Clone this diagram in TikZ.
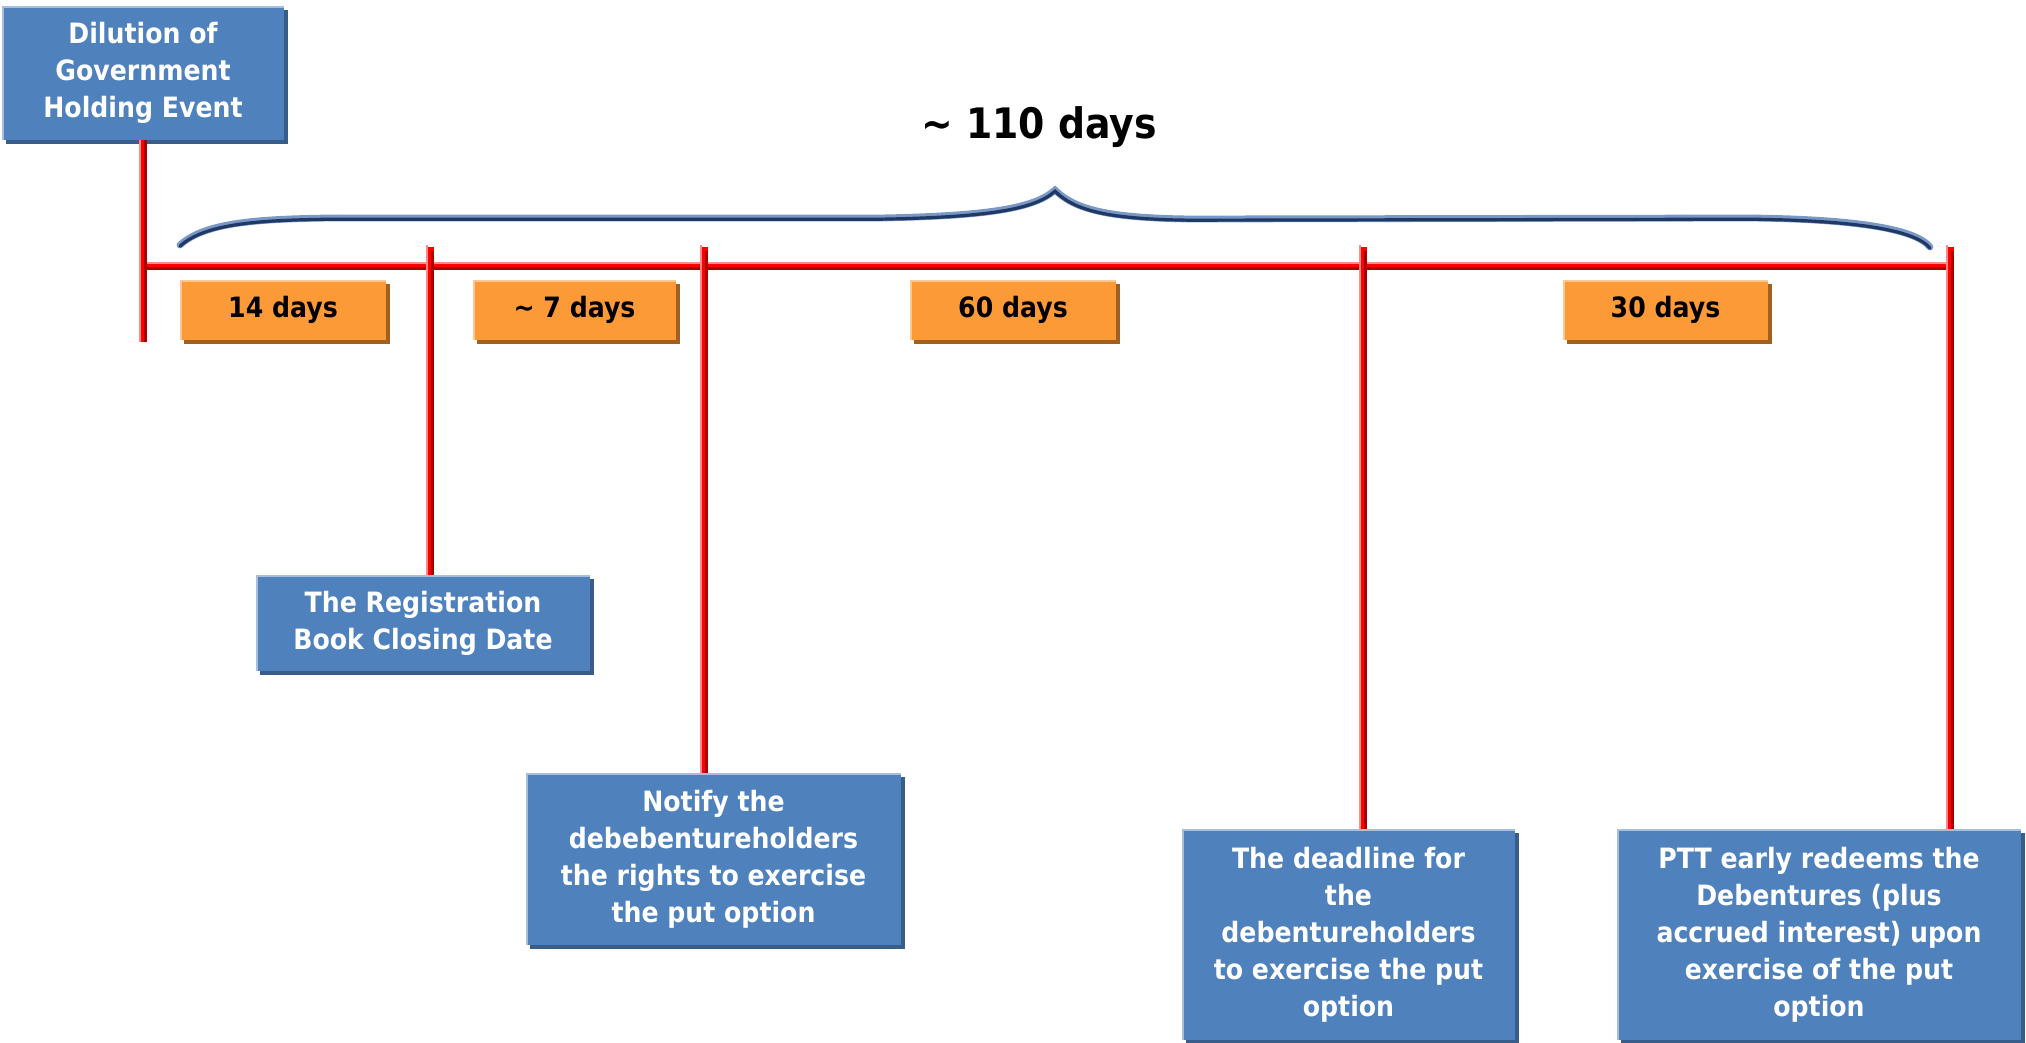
\documentclass[tikz,border=0pt]{standalone}
\usepackage{fontspec}
\setmainfont{DejaVu Sans}[FakeStretch=0.9]
\usetikzlibrary{shadows}
\definecolor{bfill}{HTML}{4F81BD}
\definecolor{blight}{HTML}{A7BEDC}
\definecolor{bshadow}{HTML}{385D8A}
\definecolor{ofill}{HTML}{FD9A38}
\definecolor{olight}{HTML}{FFC891}
\definecolor{oshadow}{HTML}{A0601F}
\definecolor{rmain}{HTML}{FF0000}
\definecolor{rdark}{HTML}{A80000}
\definecolor{rlight}{HTML}{FF8A8A}
\definecolor{navy}{HTML}{1F3864}
\definecolor{navylight}{HTML}{7A98C6}
\begin{document}
\begin{tikzpicture}[x=0.5pt,y=-0.5pt,
  bluebox/.style={fill=bfill, text=white, font=\bfseries\fontsize{14pt}{18.5pt}\selectfont,
    align=center, inner sep=0pt,
    drop shadow={shadow xshift=2pt,shadow yshift=-2pt,opacity=1,fill=bshadow}},
  orangebox/.style={fill=ofill, text=black, font=\bfseries\fontsize{14pt}{17pt}\selectfont,
    minimum height=30pt, inner sep=0pt,
    drop shadow={shadow xshift=2pt,shadow yshift=-2pt,opacity=1,fill=oshadow}},
  bedge/.style={draw=blight, line width=1.3pt},
  oedge/.style={draw=olight, line width=1.3pt},
  redmain/.style={draw=rmain, line width=3.8pt},
  reddark/.style={draw=rdark, line width=1.2pt},
  redlight/.style={draw=rlight, line width=0.8pt},
  bracelight/.style={draw=navylight, line width=3.4pt, line cap=round},
  bracedark/.style={draw=navy, line width=1.6pt, line cap=round}
]
\useasboundingbox (0,0) rectangle (2026,1043);

% blue boxes
\node[bluebox, minimum width=141pt, minimum height=67pt] (b1) at (143,73) {Dilution of\\Government\\Holding Event};
\node[bluebox, minimum width=167pt, minimum height=48pt] (reg) at (423,623) {The Registration\\Book Closing Date};
\node[bluebox, minimum width=187.5pt, minimum height=86pt] (notify) at (713.5,859) {Notify the\\debebentureholders\\the rights to exercise\\the put option};
\node[bluebox, minimum width=166.5pt, minimum height=105.5pt] (dead) at (1348.5,934.5) {The deadline for\\the\\debentureholders\\to exercise the put\\option};
\node[bluebox, minimum width=202pt, minimum height=105.5pt] (ptt) at (1819,934.5) {PTT early redeems the\\Debentures (plus\\accrued interest) upon\\exercise of the put\\option};
\foreach \n in {b1,reg,notify,dead,ptt}
  \draw[bedge] ([xshift=0.65pt]\n.south west) |- ([yshift=-0.65pt]\n.north east);

% orange boxes
\node[orangebox, minimum width=103pt] (o14) at (283,310) {14 days};
\node[orangebox, minimum width=101.5pt] (o7) at (574.5,310) {\textasciitilde\ 7 days};
\node[orangebox, minimum width=103pt] (o60) at (1013,310) {60 days};
\node[orangebox, minimum width=102.5pt] (o30) at (1665.5,310) {30 days};
\foreach \n in {o14,o7,o60,o30}
  \draw[oedge] ([xshift=0.65pt]\n.south west) |- ([yshift=-0.65pt]\n.north east);

% timeline coordinates
\coordinate (lv) at (143,342);
\coordinate (m0) at (143,266);
\coordinate (m1) at (1950,266);
\coordinate (k1) at (430,247);
\coordinate (k2) at (704,247);
\coordinate (k3) at (1363,247);
\coordinate (k4) at (1950,247);

% main horizontal line
\draw[redmain] (m0) -- (m1);
\draw[reddark] ([yshift=-1.35pt]m0) -- ([yshift=-1.35pt]m1);
\draw[redlight] ([yshift=1.5pt]m0) -- ([yshift=1.5pt]m1);

% left vertical line
\draw[redmain] (b1.south) -- (lv);
\draw[reddark] ([xshift=1.3pt]b1.south) -- ([xshift=1.3pt]lv);
\draw[redlight] ([xshift=-1.5pt]b1.south) -- ([xshift=-1.5pt]lv);

% ticks
\foreach \k/\b in {k1/reg,k2/notify,k3/dead,k4/ptt}{
  \draw[redmain] (\k) -- (\k |- \b.north);
  \draw[reddark] ([xshift=1.3pt,yshift=-2pt]\k) -- ([xshift=1.3pt]\k |- \b.north);
  \draw[redlight] ([xshift=-1.5pt,yshift=1pt]\k) -- ([xshift=-1.5pt]\k |- \b.north);
}

% brace
\draw[bracelight] (180,245) .. controls (205,222) and (260,219) .. (330,218) -- (880,218)
  .. controls (990,216) and (1035,208) .. (1055,190)
  .. controls (1075,210) and (1110,218) .. (1190,219) -- (1750,218)
  .. controls (1850,219) and (1915,228) .. (1930,247);
\begin{scope}[yshift=-0.6pt]
\draw[bracedark] (180,245) .. controls (205,222) and (260,219) .. (330,218) -- (880,218)
  .. controls (990,216) and (1035,208) .. (1055,190)
  .. controls (1075,210) and (1110,218) .. (1190,219) -- (1750,218)
  .. controls (1850,219) and (1915,228) .. (1930,247);
\end{scope}

% total label
\node[font=\bfseries\fontsize{21pt}{25pt}\selectfont, inner sep=0pt] (total) at (1039,127) {\textasciitilde\ 110 days};
\end{tikzpicture}
\end{document}
